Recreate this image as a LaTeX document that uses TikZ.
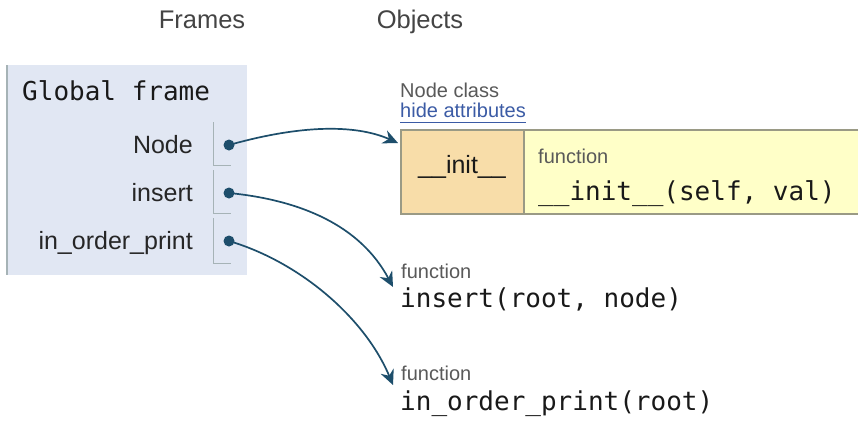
\documentclass[tikz,border=0pt]{standalone}
\usepackage{fontspec}
\setmainfont{Liberation Sans}
\setmonofont{DejaVu Sans Mono}
\usetikzlibrary{arrows.meta}
\definecolor{framebg}{HTML}{E1E7F3}
\definecolor{frameline}{HTML}{A6B3B6}
\definecolor{keybg}{HTML}{F8DDA9}
\definecolor{valbg}{HTML}{FFFFC8}
\definecolor{boxline}{HTML}{9A9A85}
\definecolor{ptr}{HTML}{1D4E6B}
\definecolor{linkblue}{HTML}{3B5BA5}
\definecolor{headgrey}{HTML}{444444}
\begin{document}
\begin{tikzpicture}[x=1pt,y=-1pt,
  head/.style={font=\fontsize{25.5}{30}\selectfont, text=headgrey, anchor=base, inner sep=0},
  varname/.style={font=\fontsize{25}{28}\selectfont, text=black!85, anchor=base east, inner sep=0},
  small/.style={font=\fontsize{20}{24}\selectfont, text=black!65, anchor=base west, inner sep=0},
  code/.style={font=\ttfamily\fontsize{26}{30}\selectfont, text=black!90, anchor=base west, inner sep=0},
  dot/.style={circle, fill=ptr, inner sep=0, minimum size=11pt},
  ptrarrow/.style={draw=ptr, line width=1.7pt, -{Stealth[length=15pt,width=14pt,inset=5pt]}},
  cellline/.style={draw=frameline, line width=1pt}
]
\useasboundingbox (0,0) rectangle (858,423);
\fill[white] (0,0) rectangle (858,423);

% headings
\node[head] (frames) at (202,28) {Frames};
\node[head] (objects) at (420,28) {Objects};

% global frame
\node[fill=framebg, minimum width=240pt, minimum height=210pt, anchor=north west, inner sep=0] (gframe) at (7,65) {};
\draw[frameline, line width=1.5pt] (gframe.north west) -- (gframe.south west);
\node[code] (gtitle) at (22,100) {Global frame};

% variable cells
\draw[cellline] (213,122) |- (231,165);
\draw[cellline] (213,170) |- (231,213);
\draw[cellline] (213,218) |- (231,263);
\node[varname] (vnode) at (193,153) {Node};
\node[varname] (vinsert) at (193,201) {insert};
\node[varname] (vprint) at (193,249) {in\_order\_print};
\node[dot] (d1) at (229,145) {};
\node[dot] (d2) at (229,193) {};
\node[dot] (d3) at (229,241) {};

% class object
\node[small] (clsname) at (400,97) {Node class};
\node[small, text=linkblue] (hide) at (400,117) {hide attributes};
\draw[linkblue, line width=0.8pt] (400,122) -- (hide.base east |- 0,122);
\fill[keybg] (401,130) rectangle (524,214);
\fill[valbg] (524,130) rectangle (858,214);
\draw[boxline, line width=1.2pt] (858,130) -- (401,130) -- (401,214) -- (858,214);
\draw[boxline, line width=1.2pt] (524,130) -- (524,214);
\coordinate (clsentry) at (398,143);
\node[font=\fontsize{25}{30}\selectfont, text=black!90, anchor=base, inner sep=0] (key) at (462,173) {\_\_init\_\_};
\node[small] (f0) at (538,163) {function};
\node[code] (initsig) at (538,200) {\_\_init\_\_(self, val)};

% function objects
\node[small] (f1) at (401,278) {function};
\node[code] (insertsig) at (400,307) {insert(root, node)};
\node[small] (f2) at (401,380) {function};
\node[code] (printsig) at (400,410) {in\_order\_print(root)};
\coordinate (e1) at (393,287);
\coordinate (e2) at (393,385);

% pointers
\draw[ptrarrow] (d1.center) .. controls (300,125) and (355,124) .. (clsentry);
\draw[ptrarrow] (d2.center) .. controls (300,200) and (360,225) .. (e1);
\draw[ptrarrow] (d3.center) .. controls (300,262) and (365,318) .. (e2);
\end{tikzpicture}
\end{document}
